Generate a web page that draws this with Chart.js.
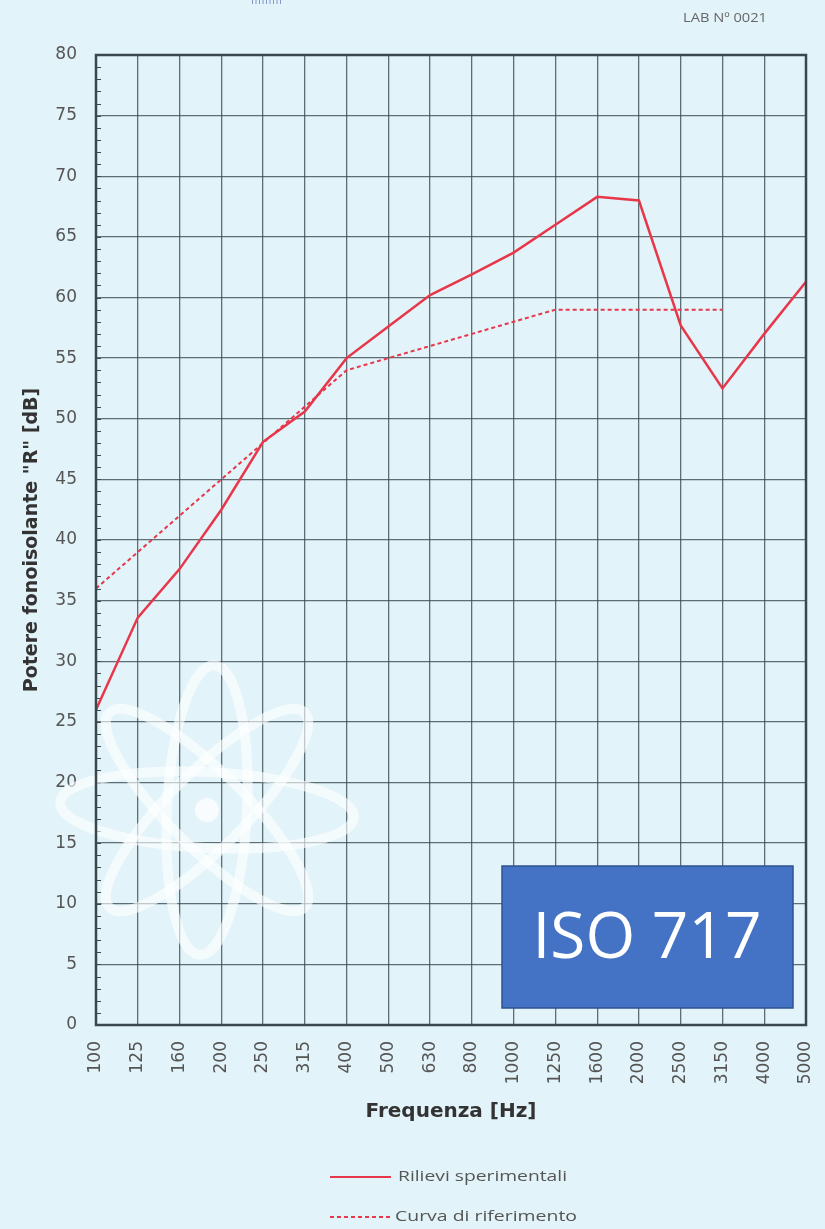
<!DOCTYPE html>
<html><head><meta charset="utf-8">
<script src="https://cdn.jsdelivr.net/npm/chart.js@4"></script>
<style>html,body{margin:0;padding:0;background:#e2f3f9;}#wrap{width:825px;height:1229px;position:relative;}</style>
</head><body><div id="wrap"><canvas id="c" width="825" height="1229"></canvas></div>
<script>
const categories = ['100','125','160','200','250','315','400','500','630','800','1000','1250','1600','2000','2500','3150','4000','5000'];
const measured = [26.0,33.6,37.6,42.5,48.1,50.6,55.0,57.6,60.2,61.9,63.7,66.0,68.3,68.0,57.7,52.5,57.0,61.3];
const reference = [36,39,42,45,48,51,54,55,56,57,58,59,59,59,59,59,null,null];
const seriesLabels = ['Rilievi sperimentali','Curva di riferimento'];
const yMin = 0, yMax = 80, yStep = 5;

const RED = '#e8374a';
const GRID = 'rgba(55,72,78,0.78)';
const FONT = '"DejaVu Sans"';

function stretchText(ctx, text, x, y, width){
  const w = ctx.measureText(text).width;
  ctx.save(); ctx.translate(x, y); ctx.scale(width / w, 1); ctx.fillText(text, 0, 0); ctx.restore();
}

const deco = {
  id:'deco',
  beforeDatasetsDraw(chart){
    const ctx = chart.ctx, ca = chart.chartArea;
    const ys = chart.scales.y;
    ctx.save();
    ctx.strokeStyle = '#3a4a50'; ctx.lineWidth = 1;
    for(let v=yMin; v<=yMax; v++){
      const py = Math.round(ys.getPixelForValue(v))+0.5;
      ctx.beginPath(); ctx.moveTo(ca.left, py); ctx.lineTo(ca.left+5, py); ctx.stroke();
    }
    ctx.strokeStyle = 'rgba(255,255,255,0.62)';
    ctx.lineWidth = 10;
    const cx = 207, cy = 810;
    [[147,38,0.05],[145,40,Math.PI/2+0.05],[138,38,Math.PI/4],[138,38,-Math.PI/4]].forEach(e=>{
      ctx.beginPath(); ctx.ellipse(cx,cy,e[0],e[1],e[2],0,Math.PI*2); ctx.stroke();
    });
    ctx.fillStyle = 'rgba(255,255,255,0.75)';
    ctx.beginPath(); ctx.arc(cx,cy,12,0,Math.PI*2); ctx.fill();
    ctx.restore();
  },
  afterDraw(chart){
    const ctx = chart.ctx, ca = chart.chartArea;
    ctx.save();
    ctx.strokeStyle = '#3a474c'; ctx.lineWidth = 2.5;
    ctx.strokeRect(ca.left, ca.top, ca.right-ca.left, ca.bottom-ca.top);
    // ISO box
    ctx.fillStyle = '#4472c4'; ctx.fillRect(502,866,291,142);
    ctx.strokeStyle = '#2f528f'; ctx.lineWidth = 1.5; ctx.strokeRect(502,866,291,142);
    ctx.fillStyle = '#ffffff'; ctx.font = '64px "Open Sans"';
    ctx.textAlign = 'center'; ctx.textBaseline = 'middle';
    ctx.fillText('ISO 717', 647, 940);
    // top text
    ctx.fillStyle = '#666'; ctx.font = '13px "Open Sans"'; ctx.textAlign = 'left'; ctx.textBaseline = 'middle';
    stretchText(ctx, 'LAB N\u00BA 0021', 683, 18, 84);
    // logo fragment
    ctx.strokeStyle = 'rgba(70,90,170,0.6)'; ctx.lineWidth = 1;
    for(let i=0;i<9;i++){ const x=252+i*3.5; ctx.beginPath(); ctx.moveTo(x+0.5,0); ctx.lineTo(x+0.5,4); ctx.stroke(); }
    // legend
    const ds = chart.data.datasets;
    const rows = [1177, 1217];
    ds.forEach((d,i)=>{
      const y = rows[i];
      ctx.strokeStyle = d.borderColor; ctx.lineWidth = 2;
      ctx.setLineDash(d.borderDash || []);
      ctx.beginPath(); ctx.moveTo(330,y); ctx.lineTo(391,y); ctx.stroke();
      ctx.setLineDash([]);
      ctx.fillStyle = '#555'; ctx.font = '15px "Open Sans"'; ctx.textAlign='left'; ctx.textBaseline='middle';
      stretchText(ctx, d.label, i===0?398:395, y, i===0?169:182);
    });
    ctx.restore();
  }
};

new Chart(document.getElementById('c'), {
  type:'line',
  data:{
    labels: categories,
    datasets:[
      {label: seriesLabels[0], data: measured, borderColor: RED, borderWidth: 2.5, pointRadius:0, tension:0, fill:false},
      {label: seriesLabels[1], data: reference, borderColor: RED, borderWidth: 2, borderDash:[4,3], pointRadius:0, tension:0, fill:false, spanGaps:false}
    ]
  },
  options:{
    responsive:false, animation:false, devicePixelRatio:1,
    layout:{padding:{left:0, right:19, top:55, bottom:84}},
    plugins:{legend:{display:false}, tooltip:{enabled:false}},
    scales:{
      x:{
        offset:false,
        grid:{color:GRID, lineWidth:1.3, drawTicks:false, offset:false},
        border:{display:false},
        ticks:{color:'#555', font:{family:FONT, size:17}, maxRotation:90, minRotation:90, padding:16, autoSkip:false},
        title:{display:true, text:'Frequenza [Hz]', color:'#333', font:{family:FONT, size:20, weight:'bold'}, padding:{top:0,bottom:21}},
        afterFit(s){ s.height = 120; s.paddingRight = 0; s.paddingLeft = 0; }
      },
      y:{
        min:yMin, max:yMax,
        grid:{color:GRID, lineWidth:1.3, drawTicks:false},
        border:{display:false},
        ticks:{stepSize:yStep, color:'#555', font:{family:FONT, size:17}, padding:19},
        title:{display:true, text:'Potere fonoisolante "R" [dB]', color:'#333', font:{family:FONT, size:19, weight:'bold'}, padding:{top:21,bottom:0}},
        afterFit(s){ s.width = 96; s.paddingTop = 0; s.paddingBottom = 0; }
      }
    }
  },
  plugins:[deco]
});
</script></body></html>
